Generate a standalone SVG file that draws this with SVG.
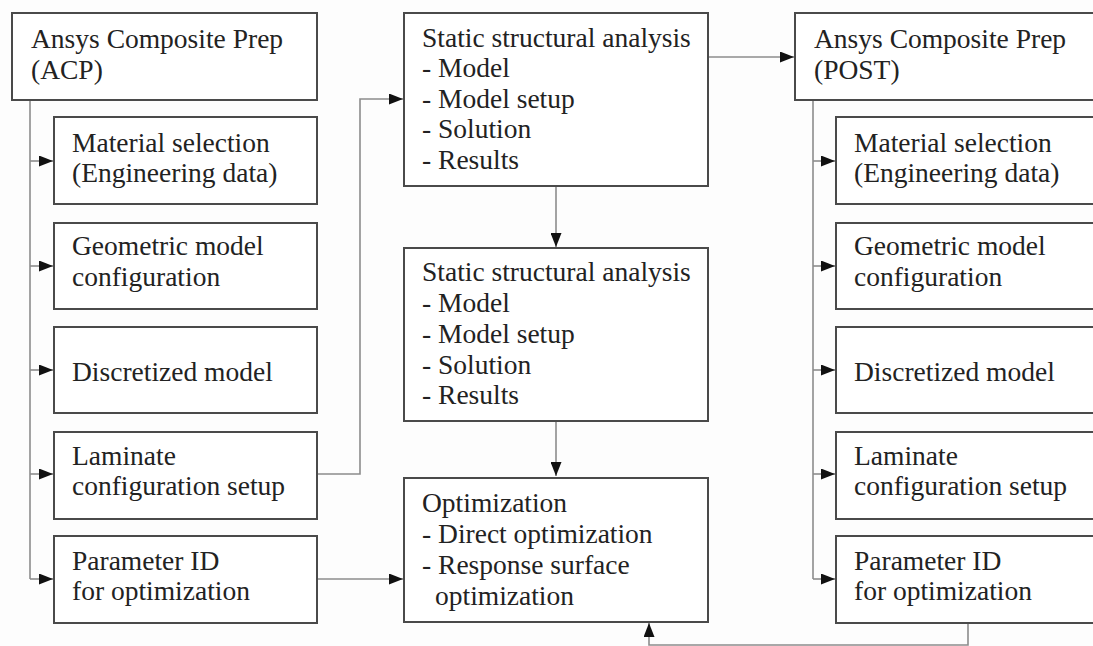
<svg xmlns="http://www.w3.org/2000/svg" width="1093" height="646" viewBox="0 0 1093 646">
<defs>
<style>
.box{fill:#ffffff;stroke:#4a4a4a;stroke-width:2}
.t{font-family:"Liberation Serif","Times New Roman",serif;font-size:27.5px;fill:#222}
.c{fill:none;stroke:#8c8c8c;stroke-width:1.6}
</style>
<marker id="ah" markerWidth="14" markerHeight="11" refX="14" refY="5.5" orient="auto" markerUnits="userSpaceOnUse">
<path d="M0,0 L14,5.5 L0,11 Z" fill="#111"/>
</marker>
</defs>
<rect width="1093" height="646" fill="#fdfdfd"/>
<g id="connectors">
<path class="c" d="M30,100 V579"/>
<path class="c" d="M30,161 H53" marker-end="url(#ah)"/>
<path class="c" d="M30,266 H53" marker-end="url(#ah)"/>
<path class="c" d="M30,370 H53" marker-end="url(#ah)"/>
<path class="c" d="M30,474 H53" marker-end="url(#ah)"/>
<path class="c" d="M30,579 H53" marker-end="url(#ah)"/>
<path class="c" d="M318,474 H360 V99 H403" marker-end="url(#ah)"/>
<path class="c" d="M318,579 H403" marker-end="url(#ah)"/>
<path class="c" d="M709,57 H794" marker-end="url(#ah)"/>
<path class="c" d="M556,187 V247" marker-end="url(#ah)"/>
<path class="c" d="M556,422 V476" marker-end="url(#ah)"/>
<path class="c" d="M813,100 V579"/>
<path class="c" d="M813,161 H835" marker-end="url(#ah)"/>
<path class="c" d="M813,266 H835" marker-end="url(#ah)"/>
<path class="c" d="M813,370 H835" marker-end="url(#ah)"/>
<path class="c" d="M813,474 H835" marker-end="url(#ah)"/>
<path class="c" d="M813,579 H835" marker-end="url(#ah)"/>
<path class="c" d="M968,624 V645 H649 V623" marker-end="url(#ah)"/>
</g>
<g id="acp">
<rect class="box" x="12" y="13" width="305" height="87"/>
<text class="t" x="31" y="48">Ansys Composite Prep</text>
<text class="t" x="31" y="79">(ACP)</text>
</g>
<g id="l-material">
<rect class="box" x="54" y="117" width="263" height="87"/>
<text class="t" x="72" y="152">Material selection</text>
<text class="t" x="72" y="182">(Engineering data)</text>
</g>
<g id="l-geometric">
<rect class="box" x="54" y="223" width="263" height="86"/>
<text class="t" x="72" y="255">Geometric model</text>
<text class="t" x="72" y="286">configuration</text>
</g>
<g id="l-discretized">
<rect class="box" x="54" y="327" width="263" height="86"/>
<text class="t" x="72" y="381">Discretized model</text>
</g>
<g id="l-laminate">
<rect class="box" x="54" y="432" width="263" height="87"/>
<text class="t" x="72" y="465">Laminate</text>
<text class="t" x="72" y="495">configuration setup</text>
</g>
<g id="l-parameter">
<rect class="box" x="54" y="536" width="263" height="87"/>
<text class="t" x="72" y="570">Parameter ID</text>
<text class="t" x="72" y="600">for optimization</text>
</g>
<g id="static1">
<rect class="box" x="404" y="13" width="304" height="173"/>
<text class="t" x="422" y="47">Static structural analysis</text>
<text class="t" x="422" y="77">- Model</text>
<text class="t" x="422" y="108">- Model setup</text>
<text class="t" x="422" y="138">- Solution</text>
<text class="t" x="422" y="169">- Results</text>
</g>
<g id="static2">
<rect class="box" x="404" y="248" width="304" height="173"/>
<text class="t" x="422" y="281">Static structural analysis</text>
<text class="t" x="422" y="312">- Model</text>
<text class="t" x="422" y="343">- Model setup</text>
<text class="t" x="422" y="374">- Solution</text>
<text class="t" x="422" y="404">- Results</text>
</g>
<g id="optimization">
<rect class="box" x="404" y="478" width="304" height="144"/>
<text class="t" x="422" y="512">Optimization</text>
<text class="t" x="422" y="543">- Direct optimization</text>
<text class="t" x="422" y="574">- Response surface</text>
<text class="t" x="435" y="605">optimization</text>
</g>
<g id="post">
<rect class="box" x="795" y="13" width="310" height="87"/>
<text class="t" x="814" y="48">Ansys Composite Prep</text>
<text class="t" x="814" y="79">(POST)</text>
</g>
<g id="r-material">
<rect class="box" x="836" y="117" width="270" height="87"/>
<text class="t" x="854" y="152">Material selection</text>
<text class="t" x="854" y="182">(Engineering data)</text>
</g>
<g id="r-geometric">
<rect class="box" x="836" y="223" width="270" height="86"/>
<text class="t" x="854" y="255">Geometric model</text>
<text class="t" x="854" y="286">configuration</text>
</g>
<g id="r-discretized">
<rect class="box" x="836" y="327" width="270" height="86"/>
<text class="t" x="854" y="381">Discretized model</text>
</g>
<g id="r-laminate">
<rect class="box" x="836" y="432" width="270" height="87"/>
<text class="t" x="854" y="465">Laminate</text>
<text class="t" x="854" y="495">configuration setup</text>
</g>
<g id="r-parameter">
<rect class="box" x="836" y="536" width="270" height="87"/>
<text class="t" x="854" y="570">Parameter ID</text>
<text class="t" x="854" y="600">for optimization</text>
</g>
</svg>
